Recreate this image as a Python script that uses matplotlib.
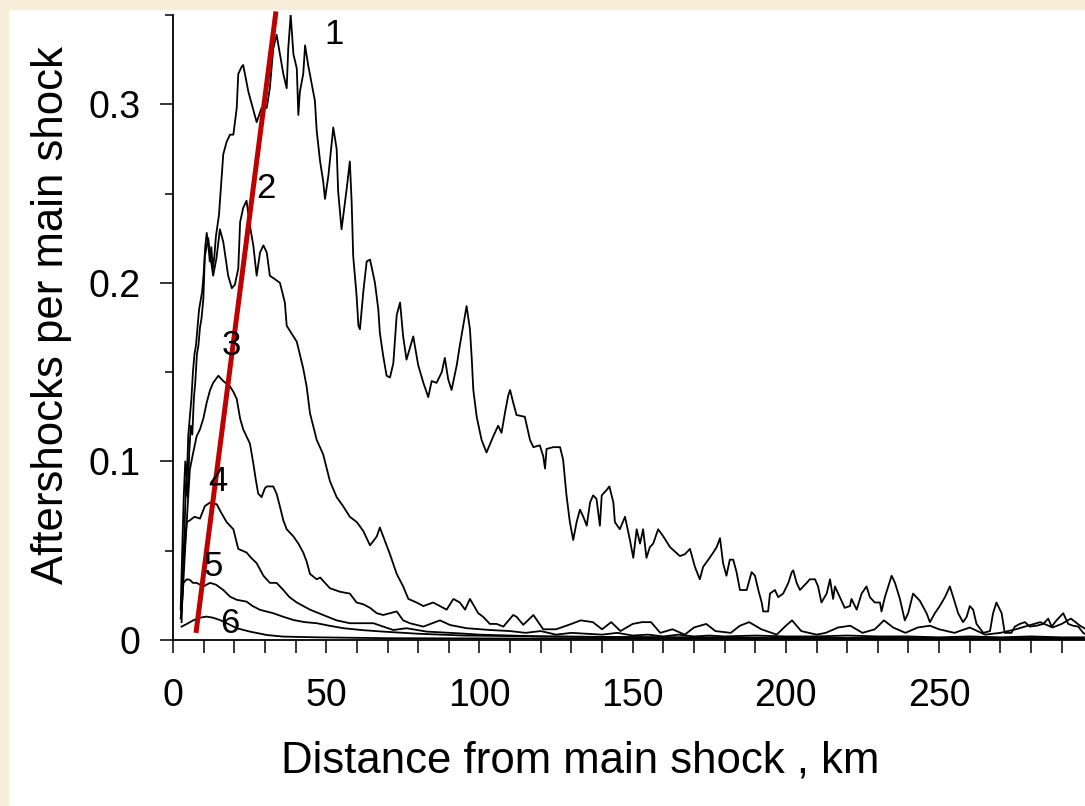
import numpy as np
import matplotlib.pyplot as plt
from matplotlib.patches import Rectangle
from matplotlib.ticker import MultipleLocator

plt.rcParams['font.family'] = ['Liberation Sans', 'DejaVu Sans']

# curve 1 (largest magnitude class)
c1_x = [2.5, 3.0, 3.5, 4.0, 4.5, 5.0, 5.5, 6.0, 6.5, 7.0, 7.5, 8.0, 8.5, 9.0, 9.5,
        10.0, 10.5, 11.0, 11.5, 12.0, 12.5, 13.0, 13.5, 14.0, 15.0, 15.9, 16.4, 17.5,
        18.6, 19.7, 20.8, 21.3, 22.4, 22.9, 24.6, 25.7, 27.3, 28.9, 30.6, 31.6, 32.7,
        33.8, 34.9, 36.0, 37.1, 37.6, 38.4, 39.3, 40.4, 40.9, 41.4, 42.5, 43.1, 44.1,
        45.3, 46.3, 46.9, 48.0, 49.0, 49.6, 50.7, 52.3, 53.4, 53.9, 55.0, 56.7, 57.7,
        58.3, 58.8, 59.9, 60.5, 61.0, 62.1, 63.2, 64.3, 65.9, 67.0, 67.5, 68.6, 69.7,
        70.8, 71.9, 73.0, 74.1, 75.1, 76.2, 77.9, 78.4, 80.0, 81.7, 83.3, 84.4, 86.0,
        87.7, 88.7, 89.8, 90.9, 92.6, 93.6, 94.7, 95.8, 96.9, 97.5, 98.0, 99.1, 100.7,
        102.3, 104.5, 106.1, 107.2, 108.3, 109.4, 110.0, 111.0, 112.1, 114.8, 116.5,
        117.6, 119.7, 120.8, 121.4, 121.9, 124.1, 126.3, 127.3, 128.4, 129.5, 130.6,
        131.7, 132.8, 133.9, 135.0, 136.1, 137.1, 138.2, 139.3, 139.9, 141.5, 142.4,
        143.7, 144.2, 145.8, 147.5, 149.1, 150.2, 151.3, 152.4, 153.4, 154.5, 155.6,
        156.7, 158.3, 160.0, 162.2, 165.4, 167.0, 168.7, 170.3, 171.9, 173.0, 174.7,
        176.3, 177.4, 178.5, 179.5, 180.6, 181.7, 182.8, 183.9, 185.0, 187.2, 188.8,
        189.9, 191.0, 192.1, 192.6, 194.2, 194.8, 196.4, 197.5, 199.1, 200.8, 201.9,
        202.4, 203.5, 204.6, 206.8, 207.8, 209.5, 210.5, 211.6, 213.3, 214.4, 215.4,
        216.0, 217.6, 219.2, 220.9, 221.4, 223.1, 224.7, 226.3, 227.4, 229.0, 230.7,
        231.2, 232.3, 234.5, 235.6, 237.2, 238.8, 239.9, 241.5, 243.7, 245.9, 247.0,
        248.6, 250.2, 251.9, 253.5, 254.6, 256.2, 257.8, 259.0, 260.0, 261.1, 262.2,
        264.4, 266.6, 267.6, 268.7, 270.4, 271.4, 273.6, 274.7, 276.3, 278.0, 279.6,
        281.8, 284.0, 285.6, 286.7, 288.3, 290.5, 292.1, 293.7, 295.4, 297.0, 298.0]
c1_y = [0.017, 0.05, 0.08, 0.10, 0.09, 0.115, 0.125, 0.135, 0.15, 0.16, 0.165, 0.175, 0.185, 0.19, 0.195,
        0.205, 0.22, 0.228, 0.222, 0.212, 0.22, 0.208, 0.215, 0.226, 0.238, 0.260, 0.272, 0.279,
        0.283, 0.283, 0.298, 0.317, 0.321, 0.322, 0.307, 0.300, 0.290, 0.298, 0.298, 0.309, 0.331,
        0.339, 0.328, 0.317, 0.309, 0.331, 0.350, 0.328, 0.320, 0.294, 0.307, 0.317, 0.333, 0.322,
        0.311, 0.302, 0.285, 0.268, 0.257, 0.247, 0.260, 0.287, 0.275, 0.251, 0.230, 0.253, 0.268,
        0.245, 0.215, 0.193, 0.176, 0.174, 0.195, 0.212, 0.213, 0.200, 0.185, 0.172, 0.159, 0.148,
        0.147, 0.155, 0.182, 0.189, 0.170, 0.157, 0.167, 0.170, 0.154, 0.144, 0.136, 0.145, 0.144,
        0.150, 0.158, 0.146, 0.140, 0.154, 0.165, 0.176, 0.187, 0.174, 0.157, 0.140, 0.125, 0.112,
        0.105, 0.114, 0.120, 0.116, 0.127, 0.137, 0.140, 0.133, 0.126, 0.125, 0.112,
        0.108, 0.109, 0.103, 0.096, 0.107, 0.108, 0.108, 0.101, 0.081, 0.066, 0.056,
        0.066, 0.073, 0.069, 0.064, 0.077, 0.081, 0.079, 0.064, 0.081, 0.084, 0.086,
        0.077, 0.066, 0.062, 0.069, 0.056, 0.046, 0.062, 0.054, 0.062, 0.046, 0.052,
        0.054, 0.062, 0.058, 0.052, 0.047, 0.048, 0.051, 0.041, 0.034, 0.041, 0.045,
        0.049, 0.052, 0.057, 0.043, 0.036, 0.045, 0.045, 0.038, 0.028, 0.028, 0.038,
        0.036, 0.028, 0.021, 0.016, 0.016, 0.026, 0.028, 0.024, 0.026, 0.032, 0.038,
        0.039, 0.032, 0.028, 0.032, 0.034, 0.034, 0.030, 0.021, 0.026, 0.034, 0.023,
        0.030, 0.024, 0.018, 0.019, 0.023, 0.017, 0.026, 0.030, 0.024, 0.021, 0.021,
        0.016, 0.024, 0.036, 0.032, 0.023, 0.011, 0.015, 0.026, 0.022, 0.015, 0.010,
        0.015, 0.019, 0.024, 0.030, 0.024, 0.015, 0.010, 0.013, 0.019, 0.017, 0.009,
        0.004, 0.005, 0.015, 0.021, 0.015, 0.004, 0.004, 0.0075, 0.009, 0.010, 0.0075,
        0.008, 0.009, 0.012, 0.0075, 0.011, 0.015, 0.009, 0.008, 0.0075, 0.004, 0.003]

c2_x = [2.8, 3.3, 3.8, 4.3, 4.8, 5.3, 5.8, 6.3, 6.8, 7.3, 7.8, 8.3, 8.8, 9.3, 9.9,
        10.4, 11.5, 12.1, 13.1, 14.2, 15.3, 16.4, 18.0, 19.2, 20.2, 21.3, 21.9, 22.9,
        24.0, 25.1, 26.2, 27.3, 28.4, 29.5, 30.6, 31.6, 33.3, 34.9, 36.5, 37.1, 38.2,
        40.4, 42.5, 43.6, 44.7, 46.9, 49.0, 51.2, 53.4, 55.5, 57.7, 60.0, 62.1, 64.3,
        66.5, 67.5, 68.6, 70.8, 73.0, 75.1, 76.8, 79.5, 81.7, 84.9, 86.0, 89.3, 91.5,
        93.6, 95.3, 96.9, 99.6, 101.2, 103.4, 105.6, 107.8, 110.0, 111.0, 112.1, 114.3,
        117.6, 120.8, 125, 130, 133, 137, 140, 143, 146, 150, 153, 156, 159, 163, 167,
        170, 174, 177, 182, 185, 188, 192, 197, 200, 202, 205, 210, 213, 217, 221, 225,
        229, 232, 235, 239, 243, 247, 250, 255, 260, 265, 270, 275, 279, 283, 287, 290,
        293, 296, 298]
c2_y = [0.010, 0.04, 0.065, 0.09, 0.08, 0.105, 0.12, 0.115, 0.135, 0.145, 0.16, 0.165, 0.175, 0.18, 0.191,
        0.215, 0.225, 0.216, 0.204, 0.214, 0.230, 0.223, 0.204, 0.197, 0.199, 0.208, 0.234, 0.242,
        0.246, 0.232, 0.221, 0.204, 0.217, 0.221, 0.217, 0.204, 0.202, 0.200, 0.189, 0.176, 0.173,
        0.167, 0.152, 0.142, 0.127, 0.112, 0.104, 0.089, 0.080, 0.075, 0.069, 0.066, 0.061, 0.053,
        0.058, 0.063, 0.058, 0.048, 0.037, 0.030, 0.023, 0.021, 0.019, 0.021, 0.020, 0.017, 0.023,
        0.021, 0.017, 0.023, 0.015, 0.013, 0.009, 0.009, 0.0075, 0.012, 0.014, 0.013, 0.0085,
        0.014, 0.006, 0.006, 0.009, 0.011, 0.010, 0.006, 0.010, 0.005, 0.009, 0.010, 0.010, 0.004, 0.006, 0.003,
        0.007, 0.009, 0.005, 0.004, 0.008, 0.010, 0.006, 0.003, 0.008, 0.011, 0.005, 0.003, 0.004, 0.007, 0.008, 0.004,
        0.006, 0.011, 0.007, 0.004, 0.007, 0.008, 0.006, 0.004, 0.007, 0.003, 0.004, 0.006, 0.008, 0.010, 0.007, 0.009,
        0.012, 0.008, 0.006]

c3_x = [2.8, 3.3, 3.9, 4.5, 5.5, 6.6, 7.7, 8.8, 9.9, 11.0, 12.1, 13.1, 14.8, 16.4, 18.6,
        19.7, 20.8, 21.9, 22.9, 24.0, 25.1, 26.2, 27.0, 27.8, 28.9, 30.0, 30.6, 32.7, 33.8,
        35.0, 36.0, 37.1, 39.3, 40.9, 42.5, 43.6, 44.7, 46.9, 48.0, 51.2, 54.5, 57.7, 59.9,
        62.1, 64.3, 66.5, 68.6, 70.8, 73.0, 75.1, 77.3, 81.7, 84.0, 87.1, 90.4, 95.8, 103.4,
        110, 115, 120, 125, 130, 135, 140, 145, 150, 155, 160, 165, 170, 175, 180, 190, 200,
        210, 220, 230, 240, 250, 260, 270, 280, 290, 298]
c3_y = [0.015, 0.03, 0.049, 0.067, 0.0955, 0.105, 0.114, 0.118, 0.124, 0.133, 0.140, 0.144, 0.148, 0.145, 0.142,
        0.139, 0.135, 0.124, 0.118, 0.114, 0.110, 0.099, 0.090, 0.082, 0.080, 0.085, 0.086, 0.086, 0.082,
        0.074, 0.067, 0.062, 0.058, 0.054, 0.049, 0.044, 0.037, 0.034, 0.035, 0.029, 0.027, 0.026, 0.021,
        0.020, 0.018, 0.015, 0.014, 0.015, 0.016, 0.011, 0.0094, 0.0075, 0.009, 0.011, 0.0084, 0.0066, 0.0056,
        0.005, 0.004, 0.005, 0.003, 0.004, 0.0035, 0.003, 0.004, 0.0025, 0.003, 0.002, 0.003, 0.002, 0.0025, 0.002, 0.0025, 0.002,
        0.002, 0.0025, 0.002, 0.002, 0.0015, 0.002, 0.0015, 0.002, 0.0015, 0.0015]

c4_x = [2.8, 3.5, 4.5, 5.5, 7.0, 8.8, 10.4, 12.1, 14.3, 15.5, 17.5, 19.7, 21.3, 24.0, 25.5,
        27.3, 29.5, 31.6, 33.8, 36.0, 38.0, 40.4, 44.7, 49.0, 53.4, 57.7, 61.0, 65.4, 68.6,
        71.9, 76.2, 82.8, 93.6, 100, 110, 120, 150, 200, 250, 298]
c4_y = [0.021, 0.045, 0.066, 0.067, 0.069, 0.068, 0.075, 0.077, 0.076, 0.072, 0.066, 0.062, 0.051, 0.049, 0.046,
        0.043, 0.036, 0.032, 0.032, 0.028, 0.024, 0.021, 0.017, 0.014, 0.011, 0.0094, 0.0094, 0.0094, 0.0075,
        0.0056, 0.0066, 0.0047, 0.0037, 0.003, 0.0025, 0.002, 0.0015, 0.0012, 0.001, 0.001]

c5_x = [2.5, 3.4, 4.5, 5.5, 6.5, 7.7, 9.9, 12.1, 14.0, 16.4, 18.6, 20.8, 24.0, 26.0, 28.4,
        32.7, 36.0, 39.3, 43.0, 46.9, 51.0, 55.6, 62.0, 68.6, 80, 95, 120, 160, 220, 298]
c5_y = [0.012, 0.032, 0.034, 0.0337, 0.032, 0.032, 0.030, 0.032, 0.031, 0.028, 0.0243, 0.0225, 0.0215, 0.019, 0.0169,
        0.015, 0.013, 0.0112, 0.010, 0.0094, 0.008, 0.0066, 0.0055, 0.0047, 0.0035, 0.0025, 0.002, 0.0015, 0.001, 0.001]

c6_x = [2.8, 4.5, 6.6, 8.8, 11.0, 13.0, 15.3, 18.0, 20.8, 25.1, 30.6, 36.0, 46.9, 70, 120, 200, 298]
c6_y = [0.0075, 0.009, 0.011, 0.0125, 0.0131, 0.0125, 0.0112, 0.009, 0.0066, 0.0047, 0.0028, 0.0019,
        0.0015, 0.001, 0.0008, 0.0006, 0.0005]

curve_labels = ['1', '2', '3', '4', '5', '6']
label_x = [52.5, 30.3, 18.9, 14.7, 13.2, 18.6]
label_y = [0.339, 0.253, 0.165, 0.089, 0.041, 0.009]

# red trend line through the peaks
trend_x = [7.5, 33.6]
trend_y = [0.004, 0.352]

cream = '#f6eed8'

fig = plt.figure(figsize=(10.85, 8.06), dpi=100)
fig.patches.append(Rectangle((0, 1 - 9/806), 1, 9/806, transform=fig.transFigure,
                             color=cream, zorder=0))
fig.patches.append(Rectangle((0, 0), 8/1085, 1, transform=fig.transFigure,
                             color=cream, zorder=0))

ax = fig.add_axes([173/1085, 166/806, 912/1085, 625/806])
for xs, ys in [(c1_x, c1_y), (c2_x, c2_y), (c3_x, c3_y), (c4_x, c4_y), (c5_x, c5_y), (c6_x, c6_y)]:
    ax.plot(xs, ys, color='black', lw=1.3)

ax.plot(trend_x, trend_y, color='#c00000', lw=3.6, solid_capstyle='butt', clip_on=False, zorder=5)

for t, x, y in zip(curve_labels, label_x, label_y):
    ax.text(x, y, t, fontsize=25, ha='center', va='center', zorder=6)

ax.set_xlim(0, 297.6)
ax.set_ylim(0, 0.35)
ax.xaxis.set_major_locator(MultipleLocator(50))
ax.xaxis.set_minor_locator(MultipleLocator(10))
ax.yaxis.set_major_locator(MultipleLocator(0.1))
ax.yaxis.set_minor_locator(MultipleLocator(0.05))
ax.set_yticks([0, 0.1, 0.2, 0.3])
ax.set_yticklabels(['0', '0.1', '0.2', '0.3'])

ax.spines['top'].set_visible(False)
ax.spines['right'].set_visible(False)
ax.spines['left'].set_linewidth(1.3)
ax.spines['bottom'].set_linewidth(1.3)

ax.tick_params(axis='x', which='both', direction='out', length=9.4, width=1.1, labelsize=27, pad=18)
ax.tick_params(axis='y', which='major', direction='out', length=9.4, width=1.1, labelsize=27, pad=14)
ax.tick_params(axis='y', which='minor', direction='out', length=5.8, width=1.1)

ax.set_xlabel('Distance from main shock , km', fontsize=31.5)
ax.set_ylabel('Aftershocks per main shock', fontsize=31.5)
ax.xaxis.set_label_coords(0.446, -0.16)
ax.yaxis.set_label_coords(-0.111, 0.52)

fig.savefig('out.png', dpi=100)
